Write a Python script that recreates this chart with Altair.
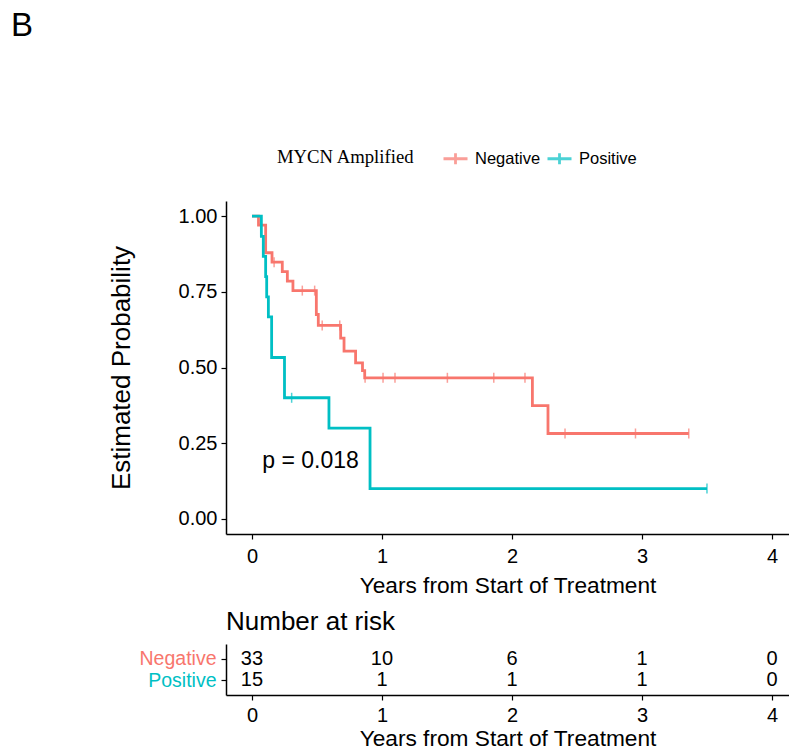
import altair as alt
import pandas as pd

groups = ["Negative", "Positive"]
colors = ["#F8766D", "#00BFC4"]

# Kaplan-Meier step points (time in years, survival probability)
neg_time = [0.0, 0.05, 0.105, 0.154, 0.233, 0.272, 0.315, 0.495, 0.51, 0.682, 0.708, 0.797, 0.85, 0.867, 2.157, 2.277, 3.36]
neg_surv = [1.0, 0.970, 0.879, 0.848, 0.817, 0.785, 0.754, 0.675, 0.639, 0.597, 0.554, 0.515, 0.49, 0.466, 0.374, 0.282, 0.282]
pos_time = [0.0, 0.072, 0.087, 0.105, 0.113, 0.126, 0.151, 0.25, 0.592, 0.908, 3.5]
pos_surv = [1.0, 0.933, 0.867, 0.8, 0.733, 0.667, 0.533, 0.4, 0.3, 0.1, 0.1]

# censoring marks
neg_cens_time = [0.17, 0.387, 0.482, 0.54, 0.675, 0.87, 1.008, 1.10, 1.503, 1.86, 2.10, 2.408, 2.95, 3.36]
neg_cens_surv = [0.848, 0.754, 0.754, 0.639, 0.639, 0.466, 0.466, 0.466, 0.466, 0.466, 0.466, 0.282, 0.282, 0.282]
pos_cens_time = [0.305, 3.5]
pos_cens_surv = [0.4, 0.1]

# number at risk table
risk_times = [0, 1, 2, 3, 4]
risk_neg = [33, 10, 6, 1, 0]
risk_pos = [15, 1, 1, 1, 0]

p_label = ["p = 0.018"]
p_x = [0.45]
p_y = [0.169]

x_ticks = [0, 1, 2, 3, 4]
y_ticks = [0.0, 0.25, 0.5, 0.75, 1.0]

curves = pd.DataFrame({
    "time": neg_time + pos_time,
    "surv": neg_surv + pos_surv,
    "group": ["Negative"] * len(neg_time) + ["Positive"] * len(pos_time),
})
cens = pd.DataFrame({
    "time": neg_cens_time + pos_cens_time,
    "surv": neg_cens_surv + pos_cens_surv,
    "group": ["Negative"] * len(neg_cens_time) + ["Positive"] * len(pos_cens_time),
})
risk = pd.DataFrame({
    "time": risk_times + risk_times,
    "n": risk_neg + risk_pos,
    "group": ["Negative"] * len(risk_times) + ["Positive"] * len(risk_times),
})
ptext = pd.DataFrame({"label": p_label, "x": p_x, "y": p_y})

xscale = alt.Scale(domain=[-0.2, 4.131], nice=False, zero=False)
yscale = alt.Scale(domain=[-0.05, 1.05], nice=False, zero=False)
cscale = alt.Scale(domain=groups, range=colors)

x_axis = alt.Axis(values=x_ticks, format="d", title="Years from Start of Treatment",
                  labelFontSize=20, titleFontSize=22.7, tickSize=5, labelPadding=7,
                  titlePadding=8, grid=False)
y_axis = alt.Axis(values=y_ticks, format=".2f", title="Estimated Probability",
                  labelFontSize=20, titleFontSize=26, tickSize=5, labelPadding=4,
                  titlePadding=44, grid=False)

legend = alt.Legend(
    title="MYCN Amplified", orient="none", legendX=51, legendY=-56,
    direction="horizontal", titleOrient="left",
    titleFont="Liberation Serif", titleFontSize=18.7, titleFontWeight="normal",
    titleColor="black", titlePadding=27,
    labelFont="Liberation Sans", labelFontSize=16.5, labelColor="black",
    labelOffset=6, columnPadding=0, labelLimit=300,
    symbolType="M-1,0H1M0,-0.45V0.45", symbolSize=576, symbolStrokeWidth=2.8,
)

lines = alt.Chart(curves).mark_line(interpolate="step-after", strokeWidth=2.8).encode(
    x=alt.X("time:Q", scale=xscale, axis=x_axis),
    y=alt.Y("surv:Q", scale=yscale, axis=y_axis),
    color=alt.Color("group:N", scale=cscale, legend=legend),
)
ticks = alt.Chart(cens).mark_tick(orient="vertical", size=10, thickness=1.5).encode(
    x=alt.X("time:Q", scale=xscale),
    y=alt.Y("surv:Q", scale=yscale),
    color=alt.Color("group:N", scale=cscale),
)
pval = alt.Chart(ptext).mark_text(fontSize=23, font="Liberation Sans", align="center",
                                  baseline="alphabetic", color="black").encode(
    x=alt.X("x:Q", scale=xscale),
    y=alt.Y("y:Q", scale=yscale),
    text="label:N",
)

main = alt.layer(lines, ticks, pval).properties(width=563, height=333)

risk_chart = alt.Chart(risk).mark_text(fontSize=20, font="Liberation Sans", color="black",
                                       align="center", baseline="middle").encode(
    x=alt.X("time:Q", scale=xscale,
            axis=alt.Axis(values=x_ticks, format="d", title="Years from Start of Treatment",
                          labelFontSize=20, titleFontSize=22.7, tickSize=5, labelPadding=5,
                          titlePadding=2, grid=False)),
    y=alt.Y("group:N", scale=alt.Scale(domain=groups, type="point", padding=0.675),
            axis=alt.Axis(title=None, labelFontSize=19.5, tickSize=5, labelPadding=5,
                          labelColor={"condition": {"test": "datum.value === 'Negative'",
                                                    "value": "#F8766D"},
                                      "value": "#00BFC4"})),
    text="n:Q",
).properties(
    width=563, height=51,
    title=alt.TitleParams("Number at risk", anchor="start", fontSize=26, offset=9, frame="group"),
)

chart = alt.vconcat(main, risk_chart, spacing=12).resolve_scale(color="independent").properties(
    title=alt.TitleParams("B", anchor="start", fontSize=33, dx=-97, offset=102, frame="bounds"),
    padding={"left": 3, "top": 2, "right": 0, "bottom": 0},
).configure_view(stroke=None).configure_axis(
    domainColor="black", domainWidth=1.5, tickColor="black", tickWidth=1.2,
    labelColor="black", titleColor="black", labelFont="Liberation Sans",
    titleFont="Liberation Sans", titleFontWeight="normal", grid=False,
).configure_title(font="Liberation Sans", fontWeight="normal", color="black")

chart.save("out.html", embed_options={"renderer": "svg", "actions": False})
